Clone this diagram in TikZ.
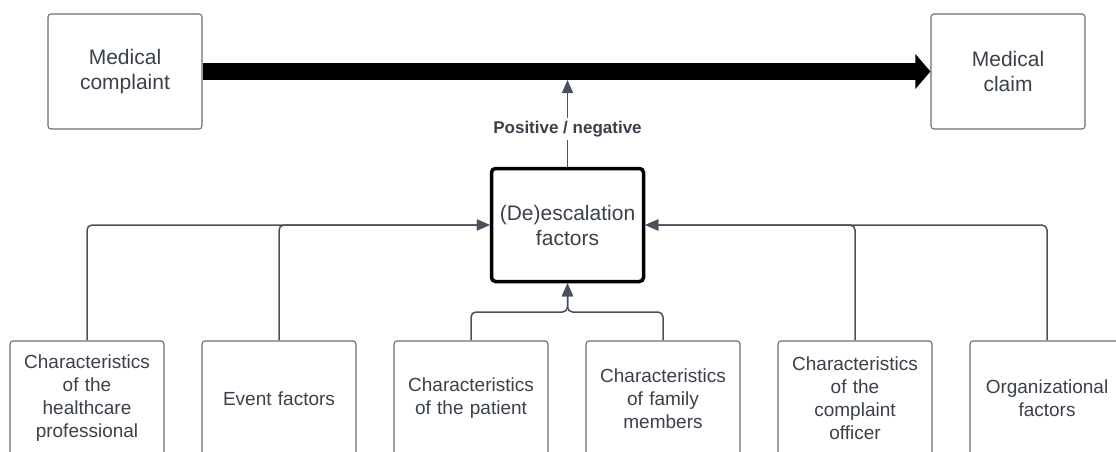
\documentclass[tikz,border=0pt]{standalone}
\usepackage{fontspec}
\setmainfont{Liberation Sans}
\usetikzlibrary{arrows.meta}
\definecolor{txt}{HTML}{3A414A}
\definecolor{bord}{HTML}{6A6E73}
\definecolor{conn}{HTML}{4A515C}
\tikzset{
  boxbase/.style={rectangle, draw=bord, line width=1.1pt, rounded corners=3pt,
    minimum width=154pt, minimum height=115pt, inner sep=0pt, align=center,
    text=txt, fill=white},
  topbox/.style={boxbase, font=\fontsize{21}{25}\selectfont, text width=146pt},
  botbox/.style={boxbase, font=\fontsize{19}{23}\selectfont, text width=146pt},
  centerbox/.style={boxbase, draw=black, line width=3.5pt, rounded corners=4pt,
    minimum width=152pt, minimum height=113pt,
    font=\fontsize{21}{25}\selectfont, text width=146pt},
  link/.style={draw=conn, line width=1.5pt, rounded corners=5pt},
  linkarrow/.style={link, -{Triangle[length=13pt,width=11pt]}},
  lbl/.style={fill=white, text=txt, font=\fontsize{17}{20}\selectfont\bfseries, inner sep=3pt}
}
\begin{document}
\begin{tikzpicture}[x=1pt,y=-1pt]
\useasboundingbox (0,0) rectangle (1116,452);
\fill[white] (0,0) rectangle (1116,452);

\node[topbox] (mc) at (125,71.5) {Medical\\complaint};
\node[topbox] (cl) at (1008,71.5) {Medical\\claim};
\node[centerbox] (de) at (567.5,225) {(De)escalation\\factors};

\node[botbox] (b1) at (87,398.5) {Characteristics\\of the\\healthcare\\professional};
\node[botbox] (b2) at (279,398.5) {Event factors};
\node[botbox] (b3) at (471,398.5) {Characteristics\\of the patient};
\node[botbox] (b4) at (663,398.5) {Characteristics\\of family\\members};
\node[botbox] (b5) at (855,398.5) {Characteristics\\of the\\complaint\\officer};
\node[botbox] (b6) at (1047,398.5) {Organizational\\factors};

% main thick arrow
\draw[line width=16pt, -{Triangle[length=15pt,width=34pt]}] (mc.east) -- (cl.west);

% positive / negative arrow
\coordinate (top) at (567.5,80);
\draw[linkarrow] (de.north) -- node[pos=0.437, lbl] {Positive / negative} (top);

% side connectors
\draw[linkarrow] (b1.north) |- (de.west);
\draw[linkarrow] (b2.north) |- (de.west);
\draw[linkarrow] (b6.north) |- (de.east);
\draw[linkarrow] (b5.north) |- (de.east);

% bottom connectors
\coordinate (j) at (567.5,312);
\draw[linkarrow] (b3.north) |- (j) -- (de.south);
\draw[linkarrow] (b4.north) |- (j) -- (de.south);
\end{tikzpicture}
\end{document}
